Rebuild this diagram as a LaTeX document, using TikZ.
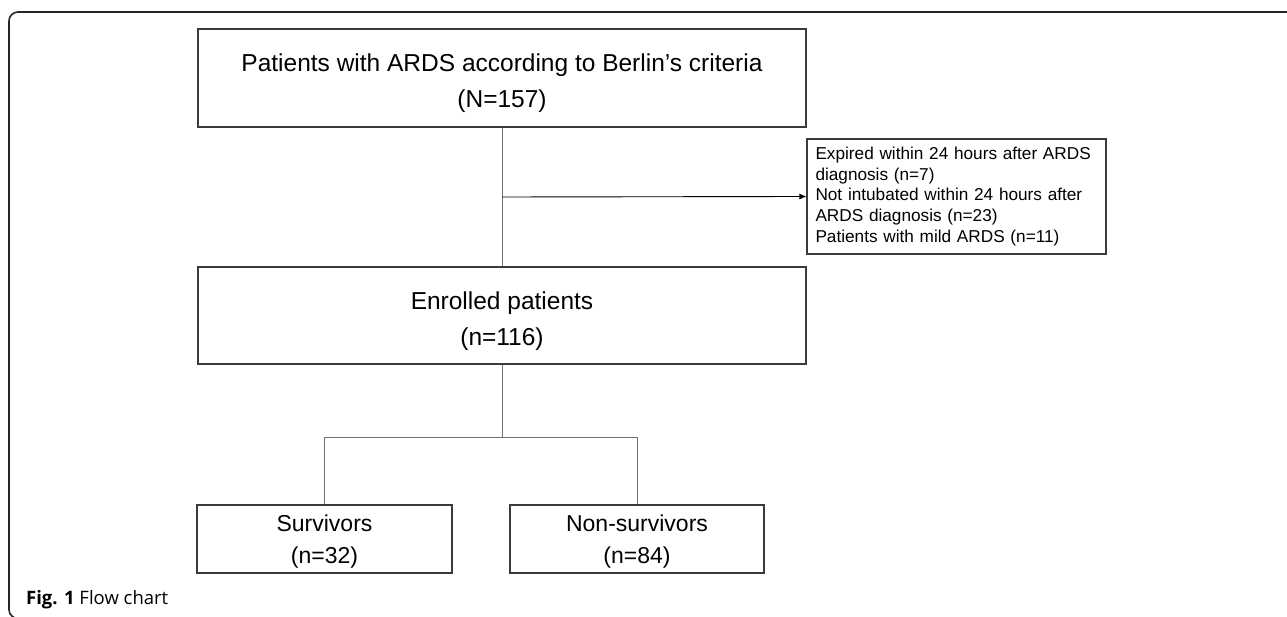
\documentclass[tikz,border=0pt]{standalone}
\usepackage{fontspec}
\setmainfont{Liberation Sans}
\newfontfamily\capfont{Open Sans}
\usetikzlibrary{arrows.meta}
\definecolor{boxline}{HTML}{3A3A3A}
\definecolor{conline}{HTML}{707070}
\definecolor{frameline}{HTML}{262626}
\begin{document}
\begin{tikzpicture}[x=1pt,y=-1pt,
  box/.style={draw=boxline,line width=1.3pt,inner sep=0pt},
  bigtxt/.style={inner sep=0pt,align=center,font=\fontsize{24.5}{36}\selectfont},
  smalltxt/.style={inner sep=0pt,align=center,font=\fontsize{23}{32}\selectfont},
  sidebox/.style={draw=boxline,line width=1.1pt,inner sep=0pt,align=left,
    font=\fontsize{17.2}{20.6}\selectfont},
  conn/.style={draw=conline,line width=0.9pt},
  arr/.style={draw=black,line width=0.9pt,-{Latex[length=7pt,width=6pt]}}]
\useasboundingbox (0,0) rectangle (1287,617);
\fill[white] (0,0) rectangle (1287,617);
\begin{scope}
\clip (0,0) rectangle (1287,617);
\draw[frameline,line width=1.6pt,rounded corners=9pt] (1300,12) -- (9,12) -- (9,618.5) -- (1300,618.5);
\end{scope}
\node[box,minimum width=608pt,minimum height=98pt] (top) at (502,78) {};
\node[bigtxt] (toptxt) at (502,83)
  {Patients with ARDS according to Berlin’s criteria\\(N=157)};
\node[box,minimum width=608pt,minimum height=97pt] (enr) at (502,315.5) {};
\node[bigtxt] (enrtxt) at (502,321.5) {Enrolled patients\\(n=116)};
\node[sidebox,minimum width=299pt,minimum height=115pt,text width=282pt] (side) at (956.5,196.5)
  {Expired within 24 hours after ARDS\\diagnosis (n=7)\\Not intubated within 24 hours after\\ARDS diagnosis (n=23)\\Patients with mild ARDS (n=11)};
\node[box,minimum width=255pt,minimum height=68pt] (surv) at (324.5,539) {};
\node[smalltxt] (survtxt) at (324.5,541.5) {Survivors\\(n=32)};
\node[box,minimum width=254pt,minimum height=68pt] (non) at (637,539) {};
\node[smalltxt] (nontxt) at (637,541.5) {Non-survivors\\(n=84)};
\coordinate (br) at (502,197);
\coordinate (split) at (502,437);
\draw[conn] (top.south) -- (enr.north);
\draw[arr] (br) -- (side.west);
\draw[conn] (enr.south) -- (split);
\draw[conn] (split) -| (surv.north);
\draw[conn] (split) -| (non.north);
\node[anchor=base west,inner sep=0pt] (cap) at (26,604)
  {\capfont\fontsize{18.5}{21}\selectfont\textbf{Fig. 1} Flow chart};
\end{tikzpicture}
\end{document}
